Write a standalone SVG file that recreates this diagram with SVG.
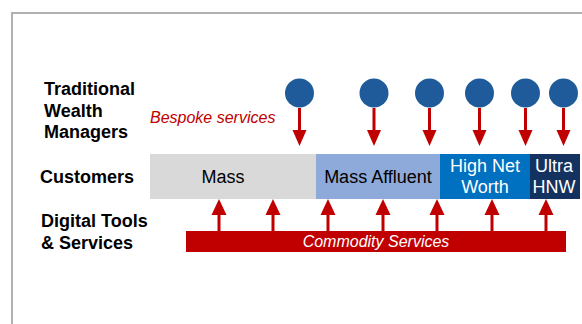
<svg xmlns="http://www.w3.org/2000/svg" width="582" height="324" viewBox="0 0 582 324">
<style>
.lbl{font-family:"Liberation Sans",Arial,sans-serif;font-size:18px;font-weight:bold;fill:#000}
.seg{font-family:"Liberation Sans",Arial,sans-serif;font-size:18px;text-anchor:middle}
.it{font-family:"Liberation Sans",Arial,sans-serif;font-size:16px;font-style:italic}
.circ{fill:#1f5b9a}
.stem{stroke:#c00000;stroke-width:3;fill:none}
.head{fill:#c00000}
</style>
<rect width="582" height="324" fill="#fff"/>
<path d="M12 330 V13 H590" fill="none" stroke="#b0b0b0" stroke-width="2"/>
<g id="row-labels">
<text class="lbl" x="44" y="95">Traditional</text>
<text class="lbl" x="44" y="116.5">Wealth</text>
<text class="lbl" x="44" y="138">Managers</text>
<text class="lbl" x="40" y="183">Customers</text>
<text class="lbl" x="41" y="227">Digital Tools</text>
<text class="lbl" x="41" y="249">&amp; Services</text>
</g>
<g id="bespoke-label"><text class="it" x="150" y="123" fill="#c00000">Bespoke services</text></g>
<g id="seg-mass"><rect x="150" y="154" width="166" height="45" fill="#d9d9d9"/><text class="seg" x="223" y="183" fill="#000">Mass</text></g>
<g id="seg-affluent"><rect x="316" y="154" width="124" height="45" fill="#8eaadb"/><text class="seg" x="378" y="183" fill="#000">Mass Affluent</text></g>
<g id="seg-hnw"><rect x="440" y="154" width="90" height="45" fill="#0070c0"/><text class="seg" x="485" y="172" fill="#fff">High Net</text><text class="seg" x="485" y="193" fill="#fff">Worth</text></g>
<g id="seg-uhnw"><rect x="530" y="154" width="50" height="45" fill="#14325f"/><text class="seg" x="554" y="172" fill="#fff">Ultra</text><text class="seg" x="554" y="193" fill="#fff">HNW</text></g>
<g id="managers">
<circle class="circ" cx="299.5" cy="93" r="14.5"/>
<circle class="circ" cx="374" cy="93" r="14.5"/>
<circle class="circ" cx="429.5" cy="93" r="14.5"/>
<circle class="circ" cx="479.5" cy="93" r="14.5"/>
<circle class="circ" cx="525.5" cy="93" r="14.5"/>
<circle class="circ" cx="563.5" cy="93" r="14.5"/>
</g>
<g id="commodity-bar"><rect x="186" y="231" width="380" height="21" fill="#c00000"/><text class="it" x="376" y="247" fill="#fff" text-anchor="middle">Commodity Services</text></g>
<g id="connectors">
<path class="stem" d="M299.5 108V131M374 108V131M429.5 108V131M479.5 108V131M525.5 108V131M563.5 108V131"/>
<path class="head" d="M292.5 130h14l-7 16zM367 130h14l-7 16zM422.5 130h14l-7 16zM472.5 130h14l-7 16zM518.5 130h14l-7 16zM556.5 130h14l-7 16z"/>
<path class="stem" d="M219 214V231M273 214V231M328 214V231M383 214V231M437 214V231M492 214V231M546 214V231"/>
<path class="head" d="M211.5 215h15l-7.5 -16zM265.5 215h15l-7.5 -16zM320.5 215h15l-7.5 -16zM375.5 215h15l-7.5 -16zM429.5 215h15l-7.5 -16zM484.5 215h15l-7.5 -16zM538.5 215h15l-7.5 -16z"/>
</g>
</svg>
